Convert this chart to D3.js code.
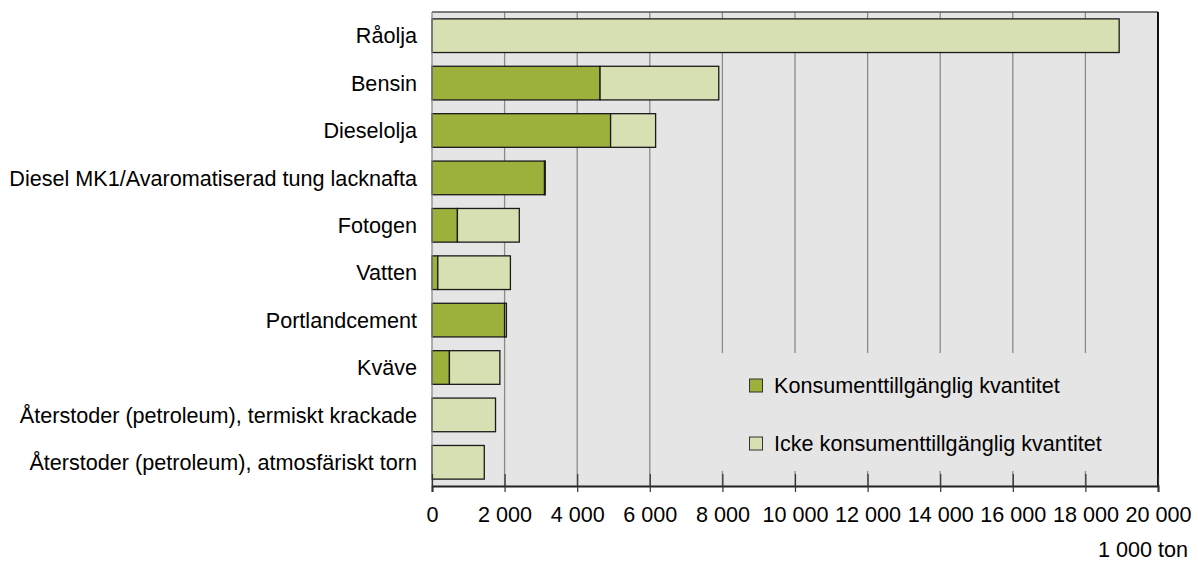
<!DOCTYPE html>
<meta charset="utf-8">
<head>
<title>Konsumenttillgänglig kvantitet</title>
<style>
body { margin: 0; background: #fff; }
svg text {
  font-family: "Liberation Sans", Arial, Helvetica, sans-serif;
  font-size: 21.6px;
  fill: #000;
}
.grid line { stroke: #8a8a8a; stroke-width: 1.3; }
</style>
</head>
<body>
<script src="https://d3js.org/d3.v7.min.js"></script>
<script>

var categories = [
  "Råolja", "Bensin", "Dieselolja", "Diesel MK1/Avaromatiserad tung lacknafta",
  "Fotogen", "Vatten", "Portlandcement", "Kväve",
  "Återstoder (petroleum), termiskt krackade",
  "Återstoder (petroleum), atmosfäriskt torn"
];
var consumer    = [0, 4630, 4920, 3100, 700, 160, 2000, 480, 0, 0];
var nonConsumer = [18930, 3270, 1240, 20, 1705, 2000, 50, 1390, 1750, 1440];
var tickValues  = [0, 2000, 4000, 6000, 8000, 10000, 12000, 14000, 16000, 18000, 20000];
var seriesNames = ["Konsumenttillgänglig kvantitet", "Icke konsumenttillgänglig kvantitet"];

var width = 1198,
    height = 561,
    plotLeft = 432, plotRight = 1158, plotTop = 12, plotBottom = 486;

var colors = ["#9cb03c", "#d7e0b2"];

var x = d3.scaleLinear().domain([0, 20000]).range([plotLeft, plotRight]);
var y = d3.scaleBand().domain(categories).range([plotTop, plotBottom])
    .paddingInner(0.29).paddingOuter(0.145);

var svg = d3.select("body").append("svg")
    .attr("width", width)
    .attr("height", height);

// plot background
svg.append("rect")
    .attr("x", plotLeft).attr("y", plotTop)
    .attr("width", plotRight - plotLeft).attr("height", plotBottom - plotTop)
    .attr("fill", "#e5e5e5");

// gridlines
svg.append("g").attr("class", "grid")
  .selectAll("line")
  .data(tickValues.slice(1, -1))
  .join("line")
    .attr("x1", d => x(d)).attr("x2", d => x(d))
    .attr("y1", plotTop).attr("y2", plotBottom);

// stacked bars
var rows = categories.map(function(c, i) {
  return {cat: c, a: consumer[i], b: nonConsumer[i]};
});

var bars = svg.append("g");
rows.forEach(function(r) {
  if (r.a > 0) {
    bars.append("rect")
      .attr("x", x(0)).attr("y", y(r.cat))
      .attr("width", x(r.a) - x(0)).attr("height", y.bandwidth())
      .attr("fill", colors[0]).attr("stroke", "#1a1a1a").attr("stroke-width", 1.3);
  }
  if (r.b > 0) {
    bars.append("rect")
      .attr("x", x(r.a)).attr("y", y(r.cat))
      .attr("width", x(r.a + r.b) - x(r.a)).attr("height", y.bandwidth())
      .attr("fill", colors[1]).attr("stroke", "#1a1a1a").attr("stroke-width", 1.3);
  }
});

// legend box covers the grid
var legend = svg.append("g");
legend.append("rect")
    .attr("x", 700).attr("y", 353)
    .attr("width", 450).attr("height", 118)
    .attr("fill", "#e5e5e5");

seriesNames.forEach(function(name, i) {
  var ly = 385.5 + i * 58;
  legend.append("rect")
    .attr("x", 749.5).attr("y", ly - 6.5)
    .attr("width", 13).attr("height", 13)
    .attr("fill", colors[i]).attr("stroke", "#333").attr("stroke-width", 1);
  legend.append("text")
    .attr("x", 774).attr("y", ly)
    .attr("dy", "0.36em")
    .text(name);
});

// frame
svg.append("line")
    .attr("x1", plotLeft).attr("x2", plotRight).attr("y1", plotTop).attr("y2", plotTop)
    .attr("stroke", "#555").attr("stroke-width", 1.3);
svg.append("line")
    .attr("x1", plotRight).attr("x2", plotRight).attr("y1", plotTop).attr("y2", plotBottom)
    .attr("stroke", "#111").attr("stroke-width", 2);
svg.append("line")
    .attr("x1", plotLeft).attr("x2", plotLeft).attr("y1", plotTop).attr("y2", plotBottom)
    .attr("stroke", "#888").attr("stroke-width", 1.3);

// x axis
var fmt = function(d) { return d3.format(",")(d).replace(/,/g, " "); };
var xAxis = svg.append("g")
    .attr("transform", "translate(0," + plotBottom + ")")
    .call(d3.axisBottom(x).tickValues(tickValues).tickFormat(fmt).tickSize(6).tickPadding(15));
xAxis.select(".domain").attr("stroke", "#222").attr("stroke-width", 2);
xAxis.selectAll(".tick line").attr("stroke", "#333").attr("stroke-width", 1.2)
    .attr("y1", -12).attr("y2", 6);
xAxis.selectAll("text").style("font-size", "21.6px").style("font-family", null).attr("fill", "#000");

// category labels
svg.append("g")
  .selectAll("text")
  .data(categories)
  .join("text")
    .attr("x", 417)
    .attr("y", d => y(d) + y.bandwidth() / 2)
    .attr("dy", "0.36em")
    .attr("text-anchor", "end")
    .text(d => d);

// unit
svg.append("text")
    .attr("x", 1188).attr("y", 549)
    .attr("dy", "0.36em")
    .attr("text-anchor", "end")
    .text("1 000 ton");

</script>
